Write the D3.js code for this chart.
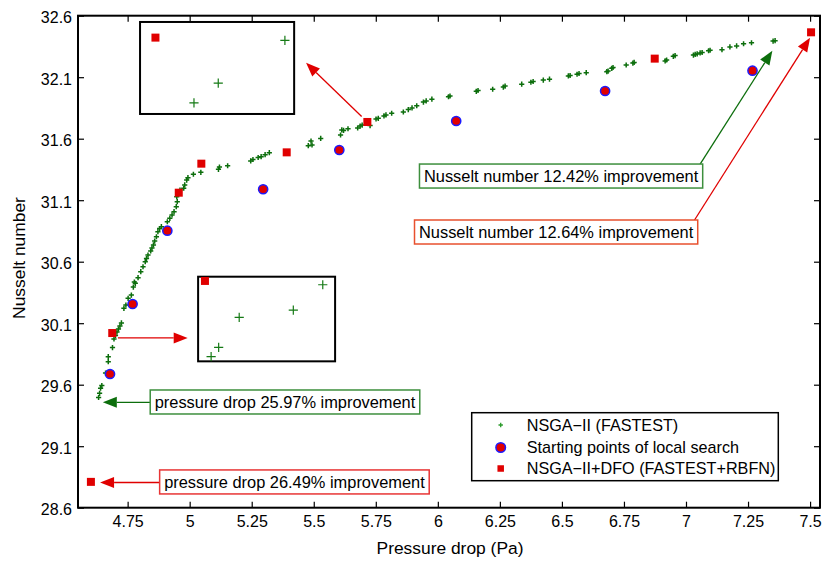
<!DOCTYPE html>
<html>
<head>
<meta charset="utf-8">
<script src="https://cdn.jsdelivr.net/npm/d3@7"></script>
<style>
  html, body { margin: 0; padding: 0; background: #fff; }
  svg { display: block; font-family: "Liberation Sans", Arial, Helvetica, sans-serif; }
</style>
</head>
<body>
<svg id="chart" width="823" height="562"></svg>
<script>
// ---- Pareto front of NSGA-II (FASTEST): pressure drop (Pa) vs Nusselt number
const nsgaPressure = [4.633,4.637,4.641,4.646,4.661,4.672,4.672,4.689,4.695,4.701,4.707,4.713,4.719,4.725,
  4.735,4.743,4.752,4.765,4.773,4.777,4.781,4.792,4.803,4.812,4.821,4.826,4.832,4.843,4.848,4.854,4.859,
  4.866,4.872,4.879,4.886,4.910,4.920,4.929,4.937,4.946,4.950,4.948,4.961,4.976,4.980,4.988,4.993,5.015,
  5.045,5.116,5.120,5.153,5.246,5.255,5.276,5.288,5.304,5.321,5.478,5.489,5.493,5.528,5.608,5.613,5.620,
  5.638,5.677,5.687,5.695,5.727,5.751,5.760,5.783,5.791,5.814,5.861,5.881,5.896,5.915,5.942,5.953,5.976,
  6.043,6.049,6.155,6.162,6.221,6.264,6.271,6.338,6.375,6.384,6.425,6.450,6.526,6.533,6.561,6.569,6.598,
  6.681,6.686,6.701,6.706,6.759,6.786,6.791,6.916,6.922,6.949,6.956,7.030,7.037,7.045,7.057,7.065,7.091,
  7.097,7.145,7.177,7.204,7.232,7.264,7.351,7.359];
const nsgaNusselt = [29.496,29.530,29.571,29.593,29.695,29.787,29.828,29.902,29.972,30.000,30.028,30.053,30.077,30.102,
  30.221,30.248,30.302,30.329,30.394,30.435,30.424,30.470,30.519,30.559,30.600,30.626,30.654,30.687,30.711,30.736,30.768,
  30.803,30.844,30.870,30.885,30.925,30.953,30.980,31.007,31.047,31.088,31.128,31.183,31.197,31.224,31.264,31.283,31.311,
  31.327,31.351,31.370,31.380,31.419,31.431,31.447,31.454,31.470,31.486,31.543,31.581,31.549,31.602,31.630,31.671,31.667,
  31.681,31.687,31.703,31.711,31.707,31.760,31.766,31.785,31.793,31.807,31.817,31.837,31.850,31.868,31.898,31.907,31.921,
  31.941,31.947,31.985,31.992,32.002,32.020,32.028,32.043,32.059,32.065,32.077,32.084,32.110,32.114,32.124,32.130,32.137,
  32.145,32.150,32.172,32.179,32.199,32.215,32.220,32.232,32.240,32.270,32.276,32.280,32.285,32.289,32.297,32.301,32.315,
  32.319,32.324,32.346,32.354,32.372,32.380,32.394,32.397];

// ---- starting points of the local search
const startPressure = [4.679, 4.770, 4.910, 5.296, 5.603, 6.074, 6.674, 7.268];
const startNusselt  = [29.687, 30.256, 30.852, 31.189, 31.508, 31.744, 31.988, 32.153];

// ---- NSGA-II + DFO (FASTEST + RBFN) results
const dfoPressure = [4.602, 4.688, 4.956, 5.047, 5.391, 5.716, 6.874, 7.504];
const dfoNusselt  = [28.810, 30.020, 31.161, 31.397, 31.489, 31.736, 32.251, 32.465];

// ---- magnified neighbourhoods shown in the two inset frames
const insetUpperNsgaPressure = [5.7496, 5.7323, 5.7260];
const insetUpperNsgaNusselt  = [31.7348, 31.7162, 31.7076];
const insetUpperDfoPressure  = [5.716];
const insetUpperDfoNusselt   = [31.736];
const insetLowerNsgaPressure = [4.7052, 4.7009, 4.6930, 4.6900, 4.6889];
const insetLowerNsgaNusselt  = [30.0191, 30.0131, 30.0114, 30.0043, 30.0021];
const insetLowerDfoPressure  = [4.688];
const insetLowerDfoNusselt   = [30.020];

// ---- axis ticks
const xTickValues = [4.75, 5, 5.25, 5.5, 5.75, 6, 6.25, 6.5, 6.75, 7, 7.25, 7.5];
const yTickValues = [28.6, 29.1, 29.6, 30.1, 30.6, 31.1, 31.6, 32.1, 32.6];

// ---- legend and annotation texts
const legendLabels = ["NSGA\u2212II (FASTEST)", "Starting points of local search", "NSGA\u2212II+DFO (FASTEST+RBFN)"];
const noteTexts = ["Nusselt number 12.42% improvement", "Nusselt number 12.64% improvement",
                   "pressure drop 25.97% improvement", "pressure drop 26.49% improvement"];

// ---------------------------------------------------------------------------
const svg = d3.select("#chart");
const plot = { left: 78, right: 820, top: 15.7, bottom: 507.7 };

const x = d3.scaleLinear().domain([4.55, 7.54]).range([plot.left, plot.right]);
const y = d3.scaleLinear().domain([28.6, 32.6]).range([plot.bottom, plot.top]);

const GREEN = "#0c6e0c";
const RED = "#e00000";
const BLUE = "#1a1aff";
const fmt = d => String(+d.toFixed(2));

// axes: ticks point inward on all four sides
const axisG = svg.append("g");
axisG.append("g").attr("transform", `translate(0,${plot.bottom})`)
  .call(d3.axisBottom(x).tickValues(xTickValues).tickFormat(fmt).tickSizeInner(-6).tickSizeOuter(0).tickPadding(8));
axisG.append("g").attr("transform", `translate(0,${plot.top})`)
  .call(d3.axisTop(x).tickValues(xTickValues).tickFormat("").tickSizeInner(-6).tickSizeOuter(0));
const leftAxis = axisG.append("g").attr("transform", `translate(${plot.left},0)`)
  .call(d3.axisLeft(y).tickValues(yTickValues).tickFormat(fmt).tickSizeInner(-6).tickSizeOuter(0).tickPadding(6));
leftAxis.selectAll(".tick text").attr("dy", "0.45em");
axisG.append("g").attr("transform", `translate(${plot.right},0)`)
  .call(d3.axisRight(y).tickValues(yTickValues).tickFormat("").tickSizeInner(-6).tickSizeOuter(0));
axisG.selectAll(".domain").remove();
axisG.selectAll(".tick line").attr("stroke", "#000").attr("stroke-width", 1.2);
axisG.selectAll(".tick text").attr("fill", "#000").style("font-size", "16px")
  .style("font-family", "'Liberation Sans', Arial, sans-serif");

svg.append("rect")
  .attr("x", plot.left).attr("y", plot.top)
  .attr("width", plot.right - plot.left).attr("height", plot.bottom - plot.top)
  .attr("fill", "none").attr("stroke", "#000").attr("stroke-width", 2);

// axis titles
svg.append("text").attr("x", (plot.left + plot.right) / 2 + 1).attr("y", 554)
  .attr("text-anchor", "middle").style("font-size", "17.4px").text("Pressure drop (Pa)");
svg.append("text").attr("transform", `translate(25,258) rotate(-90)`)
  .attr("text-anchor", "middle").style("font-size", "17.4px").text("Nusselt number");

// marker helpers
const plusPath = s => `M${-s},0H${s}M0,${-s}V${s}`;
function drawPlus(g, px, py, s, w, color) {
  g.append("path").attr("transform", `translate(${px},${py})`).attr("d", plusPath(s))
    .attr("stroke", color).attr("stroke-width", w).attr("fill", "none");
}
function drawSquare(g, px, py, side) {
  g.append("rect").attr("x", px - side / 2).attr("y", py - side / 2)
    .attr("width", side).attr("height", side).attr("fill", RED);
}
function drawCircle(g, px, py, r) {
  g.append("circle").attr("cx", px).attr("cy", py).attr("r", r)
    .attr("fill", RED).attr("stroke", BLUE).attr("stroke-width", 1.5);
}

// main series
const marks = svg.append("g");
const nsga = d3.zip(nsgaPressure, nsgaNusselt);
const starts = d3.zip(startPressure, startNusselt);
const dfo = d3.zip(dfoPressure, dfoNusselt);
nsga.forEach(([p, n]) => drawPlus(marks, x(p), y(n), 2.6, 1.5, GREEN));
starts.forEach(([p, n]) => drawCircle(marks, x(p), y(n), 4.6));
dfo.forEach(([p, n]) => drawSquare(marks, x(p), y(n), 8));

// inset frames (placed in data coordinates of the main axes)
function drawInset(frame, dom, nsgaP, nsgaN, dfoP, dfoN) {
  const x0 = x(frame.x0), x1 = x(frame.x1), y0 = y(frame.yTop), y1 = y(frame.yBottom);
  const ix = d3.scaleLinear().domain(dom.x).range([x0, x1]);
  const iy = d3.scaleLinear().domain(dom.y).range([y1, y0]);
  const g = svg.append("g");
  g.append("rect").attr("x", x0).attr("y", y0).attr("width", x1 - x0).attr("height", y1 - y0)
    .attr("fill", "#fff").attr("stroke", "#000").attr("stroke-width", 2);
  d3.zip(nsgaP, nsgaN).forEach(([p, n]) => drawPlus(g, ix(p), iy(n), 4.6, 1.2, "#157a15"));
  d3.zip(dfoP, dfoN).forEach(([p, n]) => drawSquare(g, ix(p), iy(n), 8));
}
drawInset({ x0: 4.800, x1: 5.421, yTop: 32.549, yBottom: 31.801 },
          { x: [5.712, 5.752], y: [31.7028, 31.7428] },
          insetUpperNsgaPressure, insetUpperNsgaNusselt, insetUpperDfoPressure, insetUpperDfoNusselt);
drawInset({ x0: 5.034, x1: 5.586, yTop: 30.478, yBottom: 29.790 },
          { x: [4.687, 4.707], y: [30.001, 30.021] },
          insetLowerNsgaPressure, insetLowerNsgaNusselt, insetLowerDfoPressure, insetLowerDfoNusselt);

// arrows
function drawArrow(from, to, color) {
  const ax = x(from[0]), ay = y(from[1]), bx = x(to[0]), by = y(to[1]);
  const ang = Math.atan2(by - ay, bx - ax);
  const L = 14, W = 5.5;
  const cx = bx - L * Math.cos(ang), cy = by - L * Math.sin(ang);
  const g = svg.append("g");
  g.append("line").attr("x1", ax).attr("y1", ay).attr("x2", cx).attr("y2", cy)
    .attr("stroke", color).attr("stroke-width", 1.3);
  const px = -Math.sin(ang) * W, py = Math.cos(ang) * W;
  g.append("path").attr("d", `M${bx},${by}L${cx + px},${cy + py}L${cx - px},${cy - py}Z`).attr("fill", color);
}
drawArrow([5.693, 31.780], [5.469, 32.218], RED);
drawArrow([7.057, 31.394], [7.348, 32.315], GREEN);
drawArrow([7.030, 30.925], [7.500, 32.421], RED);
drawArrow([4.841, 29.457], [4.650, 29.457], GREEN);
drawArrow([4.879, 28.805], [4.639, 28.805], RED);
drawArrow([4.711, 29.980], [4.992, 29.980], RED);

// boxed annotation texts
const notes = [
  { text: noteTexts[0], at: [5.926, 31.394], border: "#3d8f3d" },
  { text: noteTexts[1], at: [5.906, 30.939], border: "#e8502e" },
  { text: noteTexts[2], at: [4.841, 29.557], border: "#3d8f3d" },
  { text: noteTexts[3], at: [4.879, 28.907], border: "#e83535" }
];
notes.forEach(nt => {
  const g = svg.append("g").attr("transform", `translate(${x(nt.at[0])},${y(nt.at[1])})`);
  const rect = g.append("rect").attr("fill", "#fff").attr("stroke", nt.border).attr("stroke-width", 1.5);
  const t = g.append("text").attr("x", 4.5).attr("y", 18).style("font-size", "16.4px").text(nt.text);
  const w = t.node().getComputedTextLength();
  rect.attr("width", w + 9).attr("height", 24);
});

// legend
const lg = svg.append("g");
lg.append("rect").attr("x", 471.7).attr("y", 412.7).attr("width", 306.6).attr("height", 68)
  .attr("fill", "#fff").attr("stroke", "#000").attr("stroke-width", 1.5);
const rowsY = [425, 447.5, 468.5];
drawPlus(lg, 500.7, rowsY[0], 2.2, 1.3, "#2a9a2a");
drawCircle(lg, 500.7, rowsY[1], 4.8);
drawSquare(lg, 500.7, rowsY[2], 6.5);
legendLabels.forEach((lab, i) => {
  lg.append("text").attr("x", 526.7).attr("y", rowsY[i] + 5.8).style("font-size", "16.2px").text(lab);
});
</script>
</body>
</html>
